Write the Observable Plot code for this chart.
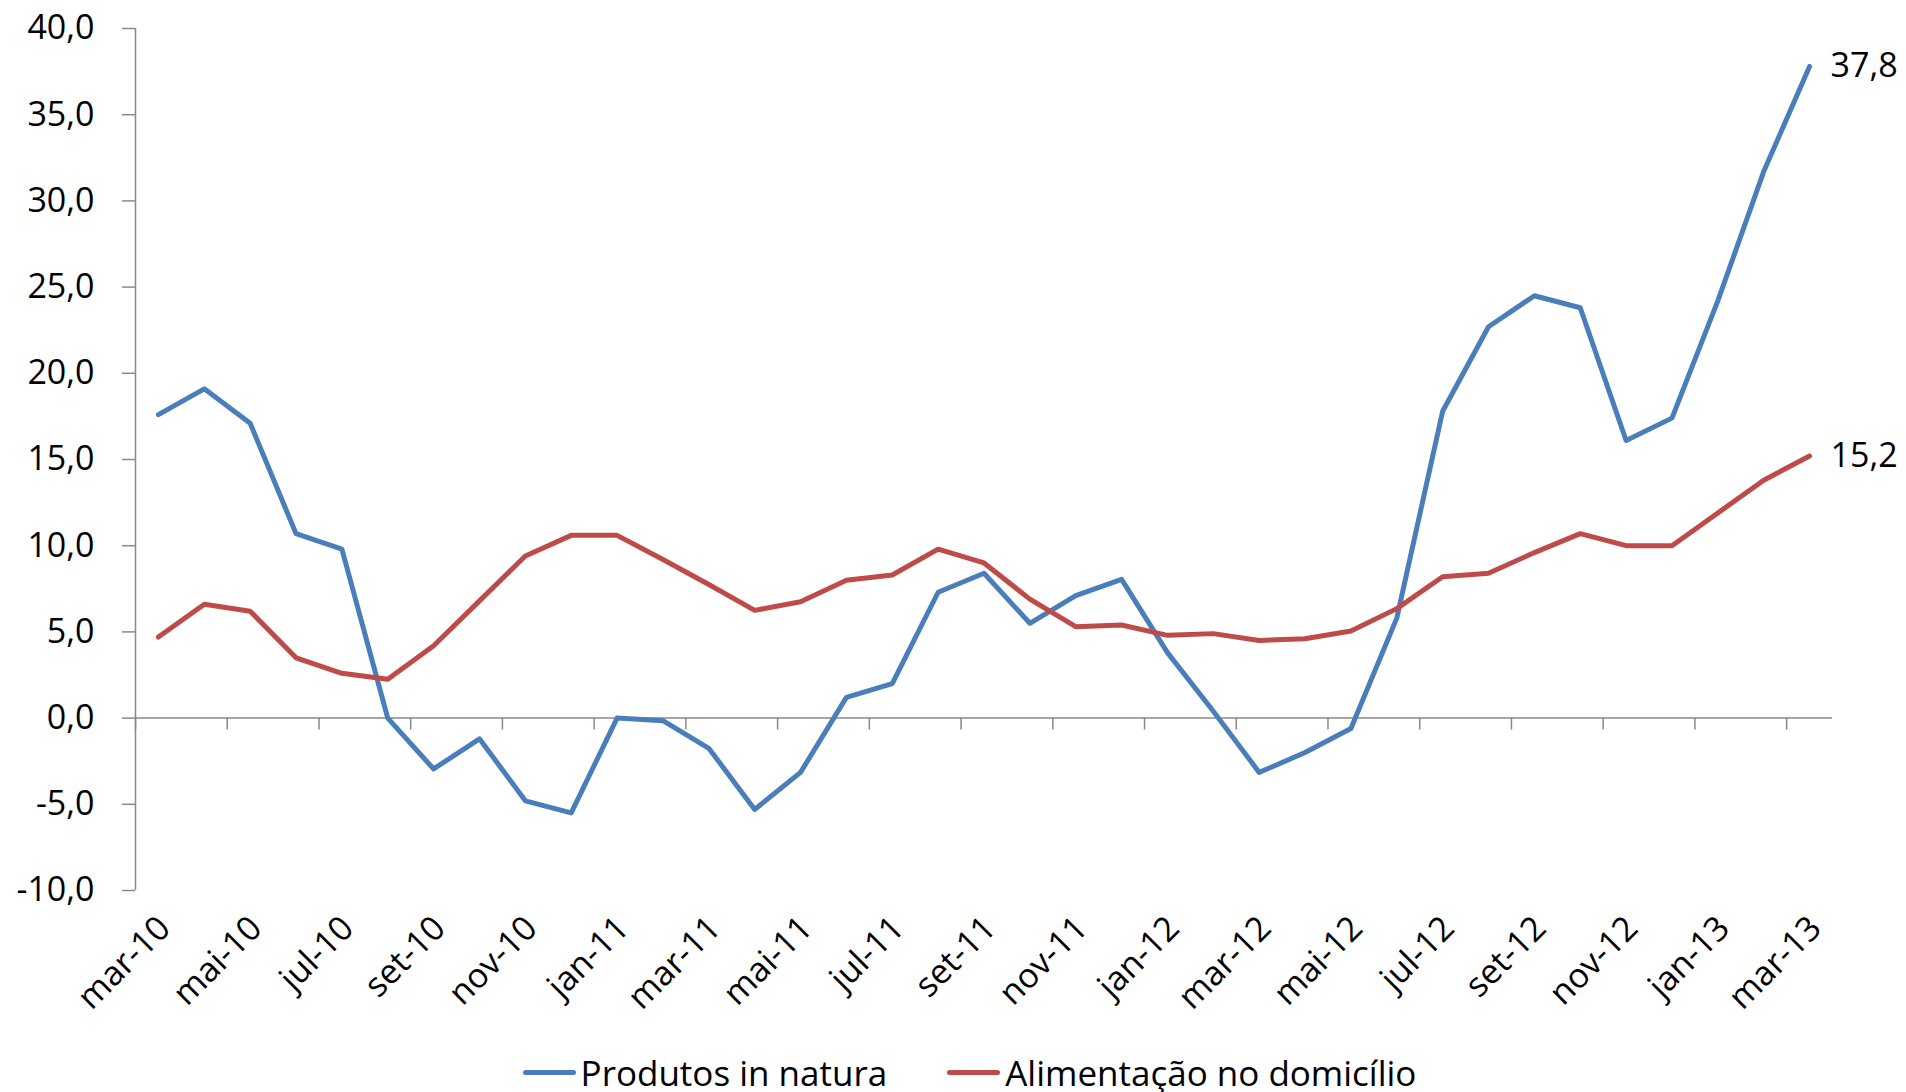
<!DOCTYPE html>
<html><head><meta charset="utf-8">
<script src="https://cdn.jsdelivr.net/npm/d3@7"></script>
<script src="https://cdn.jsdelivr.net/npm/@observablehq/plot@0.6"></script>
<style>
body{margin:0;background:#fff;font-family:"Open Sans", sans-serif;}
#chart{position:relative;width:1906px;height:1092px;}
.legend{position:absolute;top:1050px;left:0;width:1906px;height:44px;display:flex;align-items:center;justify-content:center;padding-left:33px;box-sizing:border-box;font-size:35px;color:#000;}
.item{display:flex;align-items:center;margin:0 30px;}
.sw{width:53px;height:5px;border-radius:3px;margin-right:5px;}
</style></head><body><div id="chart"></div>
<script>
const months = ["mar-10","abr-10","mai-10","jun-10","jul-10","ago-10","set-10","out-10","nov-10","dez-10",
  "jan-11","fev-11","mar-11","abr-11","mai-11","jun-11","jul-11","ago-11","set-11","out-11","nov-11","dez-11",
  "jan-12","fev-12","mar-12","abr-12","mai-12","jun-12","jul-12","ago-12","set-12","out-12","nov-12","dez-12",
  "jan-13","fev-13","mar-13"];
const natura = [17.6, 19.1, 17.1, 10.7, 9.8, 0.0, -2.95, -1.2, -4.8, -5.5,
  0.0, -0.15, -1.75, -5.3, -3.15, 1.2, 2.0, 7.3, 8.4, 5.5, 7.1, 8.05,
  3.8, 0.4, -3.15, -2.0, -0.6, 5.8, 17.8, 22.7, 24.5, 23.8, 16.1, 17.4,
  24.2, 31.7, 37.8];
const domicilio = [4.7, 6.6, 6.2, 3.5, 2.6, 2.25, 4.2, 6.8, 9.4, 10.6,
  10.6, 9.2, 7.75, 6.25, 6.75, 8.0, 8.3, 9.8, 9.0, 6.9, 5.3, 5.4,
  4.8, 4.9, 4.5, 4.6, 5.05, 6.35, 8.2, 8.4, 9.6, 10.7, 10.0, 10.0,
  11.9, 13.8, 15.2];
const seriesNames = ["Produtos in natura", "Alimentação no domicílio"];
const seriesColors = ["#4A7EBB", "#BE4B48"];
const yTicks = [-10, -5, 0, 5, 10, 15, 20, 25, 30, 35, 40];

const fmt = d => d3.format(".1f")(d).replace(".", ",").replace("\u2212", "-");
const rows = months.flatMap((m, i) => [
  {i, v: natura[i], s: seriesNames[0]},
  {i, v: domicilio[i], s: seriesNames[1]}
]);
const labelIdx = months.map((m, i) => i).filter(i => i % 2 === 0);
const boundaries = months.map((m, i) => i - 0.5).filter((d, k) => k % 2 === 0);
const last = months.length - 1;
const ends = [{i: last, v: natura[last]}, {i: last, v: domicilio[last]}];
const axisColor = "#898989";
const FS = 34;

const plot = Plot.plot({
  width: 1906, height: 1040,
  marginLeft: 135, marginRight: 74, marginTop: 28, marginBottom: 150,
  style: {fontFamily: "'Open Sans', sans-serif", fontSize: FS + "px", color: "#000", background: "#fff"},
  x: {type: "linear", domain: [-0.5, months.length - 0.5], axis: null},
  y: {domain: [-10, 40], axis: null},
  color: {domain: seriesNames, range: seriesColors},
  marks: [
    Plot.axisY({ticks: yTicks, tickFormat: fmt, tickSize: 13, tickPadding: 28, label: null, stroke: axisColor, fill: "#000", fontSize: FS, strokeWidth: 1.5}),
    Plot.ruleX([-0.5], {y1: () => -10, y2: () => 40, stroke: axisColor, strokeWidth: 1.5}),
    Plot.ruleY([0], {x1: () => -0.5, x2: () => months.length - 0.5, stroke: axisColor, strokeWidth: 1.5}),
    Plot.ruleX(boundaries, {x: d => d, y1: () => 0, y2: () => 0, insetBottom: -12, stroke: axisColor, strokeWidth: 1.5}),
    Plot.line(rows, {x: "i", y: "v", z: "s", stroke: "s", strokeWidth: 5, strokeLinejoin: "round", strokeLinecap: "round"}),
    Plot.text(ends, {x: "i", y: "v", text: d => fmt(d.v), textAnchor: "start", dx: 21, fontSize: FS, fill: "#000"}),
    Plot.text(labelIdx, {x: d => d, y: () => -10, text: d => months[d], rotate: -45, textAnchor: "end", dx: 6, dy: 32, fontSize: FS, fill: "#000"})
  ]
});
const chart = document.getElementById("chart");
chart.appendChild(plot);
const legend = document.createElement("div");
legend.className = "legend";
seriesNames.forEach((n, k) => {
  const it = document.createElement("div");
  it.className = "item";
  const sw = document.createElement("span");
  sw.className = "sw";
  sw.style.background = seriesColors[k];
  const t = document.createElement("span");
  t.textContent = n;
  it.appendChild(sw); it.appendChild(t);
  legend.appendChild(it);
});
chart.appendChild(legend);
</script>
</body></html>
